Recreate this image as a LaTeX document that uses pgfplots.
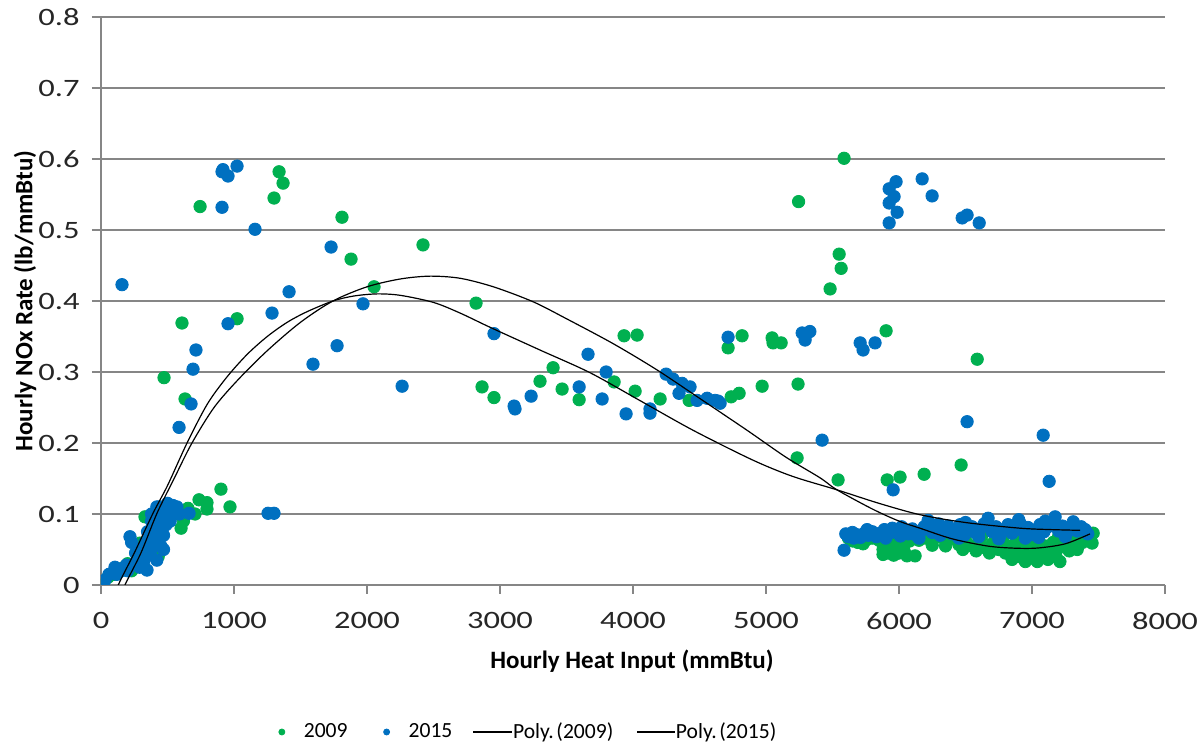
\documentclass[border=0pt]{standalone}
\usepackage{fontspec}
\setmainfont{Carlito}
\newfontfamily\tickfont{Carlito}[FakeStretch=1.3]
\usepackage{pgfplots}
\pgfplotsset{compat=1.18}
\definecolor{g09}{HTML}{00B050}
\definecolor{b15}{HTML}{0070C0}
\definecolor{axgray}{RGB}{134,134,134}

% 2009 scatter
\pgfplotstableread{
x y
8 0.0
53 0.011
100 0.015
150 0.02
165 0.024
200 0.03
230 0.02
271 0.035
293 0.059
331 0.096
368 0.073
400 0.06
430 0.04
450 0.075
500 0.09
520 0.11
560 0.10
602 0.08
620 0.09
654 0.108
707 0.10
737 0.12
797 0.116
797 0.107
902 0.135
970 0.11
474 0.292
632 0.262
609 0.369
1023 0.375
745 0.533
1339 0.582
1369 0.566
1301 0.545
1812 0.518
1880 0.459
2421 0.479
2053 0.42
2820 0.397
2865 0.279
2955 0.264
3301 0.287
3399 0.306
3467 0.276
3595 0.261
3858 0.286
3933 0.351
4031 0.352
4016 0.273
4204 0.262
4422 0.26
4715 0.334
4738 0.265
4798 0.27
4820 0.351
4971 0.28
5046 0.348
5053 0.341
5114 0.341
5241 0.283
5234 0.179
5245 0.54
5482 0.417
5550 0.466
5565 0.446
5587 0.601
5903 0.358
6588 0.318
5542 0.148
5911 0.148
6008 0.152
6189 0.156
6467 0.169
5620 0.066
5650 0.062
5690 0.060
5700 0.060
5730 0.058
5750 0.063
5800 0.066
5850 0.063
5880 0.058
5880 0.050
5880 0.043
5920 0.062
5920 0.053
5920 0.045
5960 0.058
5960 0.048
5960 0.042
6000 0.062
6000 0.053
6000 0.045
6040 0.057
6040 0.047
6060 0.041
6080 0.062
6121 0.041
6150 0.063
6200 0.066
6250 0.064
6250 0.056
6300 0.068
6350 0.062
6350 0.055
6400 0.066
6450 0.057
6480 0.050
6480 0.068
6500 0.063
6550 0.055
6580 0.048
6600 0.060
6620 0.068
6650 0.052
6680 0.045
6700 0.058
6750 0.050
6760 0.068
6780 0.062
6800 0.045
6820 0.055
6850 0.036
6870 0.048
6880 0.060
6900 0.040
6900 0.066
6920 0.052
6950 0.033
6960 0.045
6980 0.058
7000 0.038
7020 0.050
7040 0.033
7050 0.062
7050 0.068
7080 0.043
7100 0.055
7120 0.036
7140 0.048
7160 0.060
7180 0.040
7200 0.052
7200 0.068
7210 0.033
7240 0.062
7260 0.055
7280 0.048
7300 0.064
7320 0.057
7340 0.050
7360 0.066
7380 0.060
7400 0.070
7420 0.063
7440 0.068
7452 0.059
7460 0.073
}\dataA

% 2015 scatter
\pgfplotstableread{
x y
30 0.007
60 0.015
105 0.025
120 0.015
150 0.02
190 0.028
200 0.02
218 0.068
230 0.06
250 0.03
260 0.045
280 0.035
290 0.025
300 0.05
320 0.03
331 0.06
340 0.04
346 0.021
350 0.075
360 0.055
370 0.045
380 0.09
380 0.10
395 0.082
400 0.065
410 0.10
410 0.055
420 0.035
420 0.11
430 0.08
440 0.11
440 0.09
450 0.055
460 0.095
470 0.07
470 0.05
480 0.105
490 0.085
500 0.115
510 0.10
520 0.09
540 0.112
560 0.105
571 0.11
590 0.10
662 0.101
587 0.222
677 0.255
692 0.304
714 0.331
158 0.423
910 0.582
917 0.585
955 0.576
1023 0.590
910 0.532
1158 0.501
955 0.368
1286 0.383
1414 0.413
1256 0.101
1301 0.101
1594 0.311
1730 0.476
1775 0.337
1970 0.396
2264 0.28
2955 0.354
3106 0.252
3113 0.248
3234 0.266
3595 0.279
3662 0.325
3768 0.262
3798 0.30
3948 0.241
4128 0.248
4128 0.242
4249 0.297
4301 0.29
4369 0.284
4429 0.279
4346 0.27
4482 0.26
4557 0.263
4617 0.26
4640 0.259
4655 0.256
4715 0.349
5272 0.355
5294 0.349
5294 0.345
5330 0.357
5422 0.204
5708 0.341
5730 0.331
5820 0.341
5978 0.568
5926 0.558
5963 0.547
5926 0.538
5986 0.525
5926 0.510
6174 0.572
6249 0.548
6475 0.517
6512 0.521
6603 0.510
6512 0.230
5956 0.134
7084 0.211
7129 0.146
5587 0.049
5600 0.072
5620 0.068
5650 0.074
5660 0.066
5680 0.071
5710 0.067
5740 0.073
5760 0.078
5770 0.070
5800 0.075
5830 0.068
5860 0.073
5890 0.078
5900 0.066
5920 0.072
5950 0.080
5980 0.074
6010 0.069
6020 0.082
6040 0.077
6070 0.072
6100 0.079
6130 0.070
6150 0.066
6160 0.075
6190 0.082
6219 0.091
6250 0.074
6280 0.080
6300 0.086
6310 0.070
6340 0.076
6370 0.083
6400 0.072
6430 0.078
6450 0.066
6460 0.085
6490 0.070
6500 0.088
6520 0.076
6550 0.082
6580 0.073
6600 0.068
6610 0.079
6640 0.086
6670 0.094
6700 0.075
6730 0.082
6750 0.065
6760 0.070
6790 0.078
6820 0.085
6850 0.073
6880 0.080
6900 0.092
6910 0.087
6940 0.074
6950 0.066
6970 0.081
7000 0.071
7030 0.078
7050 0.067
7060 0.085
7090 0.075
7100 0.090
7120 0.082
7150 0.088
7174 0.096
7200 0.076
7230 0.083
7250 0.068
7260 0.073
7290 0.080
7310 0.089
7340 0.076
7370 0.082
7400 0.078
7420 0.072
}\dataB

% trend lines
\pgfplotstableread{
x y
120 -0.03
180 0
300 0.045
421 0.101
550 0.15
684 0.2
850 0.25
1030 0.289
1250 0.33
1500 0.37
1744 0.40
2000 0.42
2250 0.431
2474 0.435
2700 0.432
2950 0.42
3248 0.399
3500 0.375
3850 0.34
4180 0.303
4500 0.263
4857 0.218
5150 0.18
5406 0.151
5534 0.134
5800 0.107
6000 0.09
6158 0.080
6400 0.065
6662 0.055
6850 0.052
7038 0.052
7250 0.058
7436 0.072
}\polyA

\pgfplotstableread{
x y
80 -0.03
130 0
250 0.045
391 0.101
500 0.14
647 0.2
800 0.255
947 0.293
1100 0.325
1250 0.35
1400 0.37
1550 0.385
1744 0.40
1900 0.407
2075 0.41
2250 0.408
2500 0.398
2700 0.383
2925 0.363
3300 0.331
3677 0.299
4050 0.26
4451 0.218
4900 0.176
5200 0.153
5534 0.134
5850 0.115
6158 0.099
6500 0.088
6910 0.080
7150 0.078
7361 0.077
}\polyB

\begin{document}
\begin{tikzpicture}
\path[use as bounding box] (-50.5pt,-82pt) rectangle (549.5pt,292.5pt);
\begin{axis}[
  at={(0,0)}, anchor=south west,
  scale only axis, width=532pt, height=284pt,
  xmin=0, xmax=8000, ymin=0, ymax=0.8,
  clip marker paths=true,
  axis x line=bottom, axis y line=left,
  axis line style={-, draw=axgray, line width=0.7pt},
  tick align=outside, major tick length=4.5pt,
  tick style={draw=axgray, line width=0.7pt},
  xtick={0,1000,2000,3000,4000,5000,6000,7000,8000},
  xticklabels={0,1000,2000,3000,4000,5000,6000,7000,8000},
  ytick={0,0.1,0.2,0.3,0.4,0.5,0.6,0.7,0.8},
  yticklabels={0,0.1,0.2,0.3,0.4,0.5,0.6,0.7,0.8},
  ymajorgrids, grid style={draw=axgray, line width=0.65pt},
  ticklabel style={font=\tickfont\fontsize{12.5}{14}\selectfont, text=black!85},
  xticklabel style={anchor=north, inner sep=0pt, yshift=-9pt},
  yticklabel style={anchor=east, inner sep=0pt, xshift=-6pt},
  xlabel={\textbf{Hourly Heat Input (mmBtu)}},
  ylabel={\textbf{Hourly NOx Rate (lb/mmBtu)}},
  label style={font=\fontsize{12.5}{14}\selectfont},
  xlabel style={at={(axis description cs:0.499,-0.1338)}, anchor=center},
  ylabel style={at={(axis description cs:-0.0714,0.50)}, anchor=center},
  legend columns=4,
  legend style={draw=none, inner sep=0pt, column sep=0pt,
    nodes={inner sep=0pt, anchor=west},
    font=\fontsize{10.8}{13}\selectfont,
    at={(axis description cs:0.1664,-0.2588)}, anchor=west},
]
\addplot[only marks, mark=*, mark size=3.1pt, mark options={draw=g09, fill=g09},
  legend image code/.code={\path[draw=none] (0pt,0pt) -- (11pt,0pt); \fill[g09] (0pt,0pt) circle (1.5pt);}]
  table {\dataA};
\addlegendentry{2009}
\addplot[only marks, mark=*, mark size=3.1pt, mark options={draw=b15, fill=b15},
  legend image code/.code={\path[draw=none] (-19.5pt,0pt) -- (11pt,0pt); \fill[b15] (0pt,0pt) circle (1.5pt);}]
  table {\dataB};
\addlegendentry{2015}
\addplot[black, line width=0.6pt, smooth, tension=0.5,
  legend image code/.code={\path[draw=none] (-10.5pt,0pt) -- (0pt,0pt); \draw[black, line width=0.6pt] (0pt,0pt) -- (19.5pt,0pt);}]
  table {\polyA};
\addlegendentry{Poly.\hspace{0.12em}(2009)}
\addplot[black, line width=0.6pt, smooth, tension=0.5,
  legend image code/.code={\path[draw=none] (-12pt,0pt) -- (0pt,0pt); \draw[black, line width=0.6pt] (0pt,0pt) -- (19pt,0pt);}]
  table {\polyB};
\addlegendentry{Poly.\hspace{0.12em}(2015)}
\end{axis}
\end{tikzpicture}
\end{document}
